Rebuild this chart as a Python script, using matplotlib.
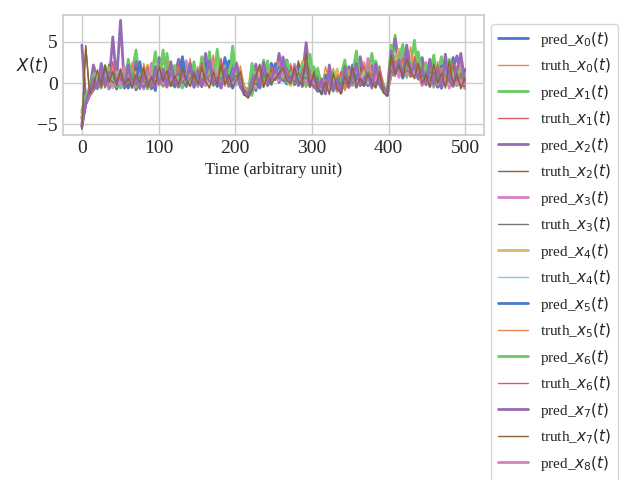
import matplotlib
matplotlib.use("Agg")
import matplotlib.pyplot as plt
import numpy as np
import seaborn as sns

sns.set_theme(style="whitegrid", palette="muted")
plt.rcParams["font.family"] = "serif"
plt.rcParams["font.serif"] = ["Liberation Serif", "DejaVu Serif"]
plt.rcParams["mathtext.fontset"] = "dejavusans"

# time axis (arbitrary unit), one sample every ~5 units
time = np.linspace(0, 499, 100)

# values, 9 variables, prediction and truth each
pred_x0 = [-4.2, -2.1, -1.0, -0.6, 0.8, -0.4, 1.6, -0.7, 0.3, -0.5,
           1.2, -0.6, 0.4, 2.1, -0.8, 0.1, 1.5, -0.5, 0.6, -0.9,
           2.3, 0.2, -0.4, 1.8, 0.5, -0.3, 2.6, 0.1, 1.1, -0.5,
           0.9, 2.2, -0.2, 0.6, 1.7, -0.4, 0.8, 3.1, 0.2, -0.6,
           1.0, -0.3, -1.2, -1.6, 0.4, -0.9, 1.9, 0.3, -0.2, 2.4,
           1.3, 2.0, 0.6, -0.1, 1.4, 0.2, 2.2, -0.4, 0.7, 1.1,
           -0.3, -1.0, 0.5, -1.2, 1.2, -0.6, 0.3, -1.1, 1.6, 0.0,
           0.8, -0.5, 2.0, 0.4, -0.3, 1.3, 0.6, -0.2, -1.0, -1.4,
           2.6, 1.4, 3.2, 0.8, 2.1, 1.5, 0.7, 2.8, -0.2, 0.9,
           -0.4, 1.6, 0.2, -0.6, 1.1, 2.3, -0.3, 0.5, 1.0, -0.6]
truth_x0 = [-4.6, -2.4, -1.3, -0.4, 0.3, 1.2, -0.6, 0.9, -0.3, 2.0,
            -0.5, 0.7, 1.8, -0.4, 0.2, -0.8, 2.4, 0.3, -0.6, 1.0,
            -0.2, 2.8, 0.6, -0.3, 1.2, 0.2, 1.7, -0.4, 2.5, 0.4,
            -0.5, 1.1, 2.7, 0.3, -0.2, 1.9, 0.5, -0.4, 2.3, 0.6,
            -0.3, 1.5, -0.8, -1.4, -0.6, 0.8, -0.2, 1.4, 0.6, 1.0,
            2.5, 0.8, 1.6, 0.2, 2.4, -0.3, 0.9, 0.4, -0.5, 1.7,
            0.5, -0.7, -1.1, 0.9, -0.8, 1.8, -0.4, 0.7, -0.9, 0.3,
            1.5, 0.1, -0.4, 2.6, 0.3, -0.2, 1.8, 0.5, -0.8, -1.2,
            1.6, 3.4, 0.9, 2.2, 1.1, 3.0, 0.5, 1.4, 0.3, -0.3,
            1.9, 0.2, 2.6, -0.5, 0.4, -0.2, 1.5, 0.1, -0.4, 1.2]
pred_x1 = [-3.6, -1.8, -0.9, -0.2, -0.7, 0.6, 2.1, -0.3, 0.4, 1.1,
           -0.6, 0.3, -0.4, 1.5, 4.0, -0.2, 0.7, -0.7, 2.0, 0.1,
           0.6, -0.4, 3.6, 0.3, -0.5, 1.4, 0.2, 2.0, -0.3, 0.8,
           1.6, -0.3, 0.5, 3.8, 0.1, 1.0, -0.5, 2.1, 0.4, 4.5,
           -0.2, 0.5, -1.0, -0.7, -1.5, 1.3, 0.1, 2.8, -0.1, 0.7,
           1.9, 1.0, 2.6, 0.1, -0.2, 1.2, 0.3, 1.6, -0.4, 0.5,
           2.0, -0.2, -1.3, -0.5, 0.6, -1.0, 1.4, 0.2, -0.6, 1.1,
           -0.3, 2.4, 0.6, -0.1, 1.0, 3.6, 0.2, 1.3, -1.1, -0.9,
           0.9, 5.8, 1.6, 4.3, 1.3, 2.2, 5.2, 0.6, 1.5, -0.1,
           0.7, -0.5, 1.3, 3.2, 0.3, -0.4, 2.0, 0.6, -0.2, 1.4]
truth_x1 = [-5.0, -2.2, -1.1, -0.5, 0.5, -0.2, 0.9, 1.8, -0.4, 0.3,
            0.8, -0.5, 1.1, 0.2, -0.7, 1.6, 0.0, 0.9, -0.4, 0.5,
            1.5, -0.3, 0.7, 2.2, -0.1, 0.6, 1.2, -0.5, 0.3, 1.8,
            0.2, 0.8, -0.4, 1.4, 2.0, -0.2, 1.1, 0.4, -0.3, 1.3,
            0.6, -0.5, -1.3, -0.9, 0.2, -0.4, 1.1, 0.4, 1.8, 0.2,
            0.9, 1.5, 0.3, 1.9, 0.6, 0.0, 1.2, -0.3, 0.8, 0.1,
            -0.6, 1.3, -0.8, -0.2, -1.1, 0.5, -0.5, 1.2, -0.7, 0.4,
            0.2, 1.1, -0.3, 0.6, 1.4, -0.4, 0.9, 2.1, -0.6, -1.3,
            1.2, 0.8, 2.5, 1.7, 3.6, 0.9, 1.8, 0.4, 2.3, 0.2,
            -0.2, 0.8, -0.5, 1.3, 0.1, 0.7, -0.3, 1.8, 0.3, -0.5]
pred_x2 = [4.6, -2.0, -0.8, 2.2, 0.4, -0.5, 1.2, -0.2, 5.6, 0.3,
           7.6, -0.4, 0.9, -0.3, 2.6, 0.2, -0.6, 1.3, 0.5, -0.2,
           3.1, 0.4, 1.5, -0.3, 0.8, 2.9, 0.1, -0.4, 1.7, 0.6,
           0.3, 1.2, 3.6, -0.2, 0.7, 1.5, 0.2, 0.9, -0.4, 2.2,
           0.4, 1.0, -0.6, -1.5, 0.3, 2.3, -0.5, 0.8, 0.2, 1.6,
           0.5, 3.6, 1.1, 0.6, 2.0, -0.2, 1.3, 0.8, 4.9, 0.3,
           1.4, -0.4, 0.2, -1.0, 2.2, -0.7, 0.4, -1.2, 0.6, 2.0,
           1.3, -0.1, 3.2, 0.7, -0.3, 2.1, 0.5, 1.1, -0.5, -1.2,
           3.0, 5.4, 1.9, 2.6, 3.6, 0.9, 1.7, 0.5, 3.1, 0.8,
           2.8, 0.6, 1.5, -0.4, 3.5, 0.2, 1.9, 3.3, 0.4, 1.7]
truth_x2 = [-5.5, 4.5, -1.2, -0.3, 0.6, 1.5, -0.1, 2.3, 0.5, 1.2,
            0.2, 1.6, -0.3, 0.8, 1.9, 0.4, 0.9, -0.2, 1.4, 0.3,
            0.6, 1.8, -0.1, 1.1, 2.2, 0.5, 1.0, 0.2, 1.5, 0.4,
            1.3, 0.1, 1.9, 0.6, 1.2, -0.1, 2.5, 0.7, 1.1, 0.3,
            1.6, 0.2, -1.0, -1.6, -0.4, 0.6, 1.3, -0.2, 0.9, 1.4,
            2.0, 1.2, 1.7, 0.8, 1.3, 0.4, 2.7, 0.3, 1.0, 0.6,
            0.2, 0.9, -0.7, 0.5, -0.9, 0.3, 1.6, -0.6, 0.8, 0.1,
            1.0, 0.5, 1.8, -0.2, 0.9, 0.6, 1.4, 0.2, -0.8, -1.5,
            2.2, 1.5, 2.9, 1.2, 2.4, 1.8, 1.1, 2.0, 0.6, 1.3,
            0.5, 1.8, 0.3, 1.2, -0.2, 0.9, 2.1, 0.4, 1.1, 0.2]
pred_x3 = [-4.8, -2.6, -1.4, -0.7, 1.0, -0.3, 0.5, -0.6, 2.2, 0.0,
           0.4, 2.0, -0.5, 0.6, -0.2, 1.2, -0.7, 0.3, 2.4, -0.4,
           0.9, 0.1, -0.5, 1.6, 0.3, -0.2, 0.8, 2.7, 0.0, 1.3,
           -0.4, 0.6, 1.4, -0.1, 2.9, 0.3, -0.3, 1.2, 0.5, 0.0,
           2.5, -0.1, -0.9, -1.3, 0.8, -0.6, 0.4, 1.6, -0.3, 0.6,
           1.1, 0.3, 3.2, 1.0, -0.1, 2.3, 0.5, 1.8, 0.2, -0.3,
           0.8, 1.5, -0.9, 0.3, -0.4, 1.1, -1.0, 0.6, 2.0, -0.5,
           0.6, -0.3, 1.2, 0.2, 3.0, 0.4, -0.4, 1.5, -0.2, -1.1,
           1.8, 2.4, 0.7, 3.5, 0.9, 1.9, 2.7, 1.2, -0.3, 2.5,
           0.1, -0.3, 0.9, 0.2, 2.4, -0.6, 0.6, 1.1, 2.6, -0.2]
truth_x3 = [-3.9, -1.9, -1.0, -0.4, -0.1, 0.7, -0.5, 0.4, 1.1, -0.3,
            0.5, -0.1, 0.8, -0.6, 0.6, 0.1, 1.0, -0.3, 0.4, 1.3,
            -0.2, 0.7, 0.3, -0.4, 1.1, 0.6, -0.1, 0.9, 0.2, 0.5,
            0.8, -0.2, 0.4, 1.0, -0.3, 0.7, 0.2, -0.1, 1.2, 0.3,
            -0.1, 0.6, -0.7, -1.2, -0.2, 0.4, 0.1, 0.9, -0.4, 0.3,
            0.7, 1.1, 0.5, 0.2, 0.9, 0.6, -0.2, 1.0, 0.3, -0.1,
            0.4, -0.8, 0.1, -0.6, 0.3, -1.0, 0.2, -0.5, 0.5, -0.2,
            0.6, 0.2, -0.3, 0.9, 0.1, 0.5, -0.2, 0.7, -0.7, -1.1,
            0.8, 1.6, 1.1, 1.4, 2.0, 0.7, 1.3, 0.9, 0.4, 0.6,
            -0.3, 0.5, 0.2, 0.8, -0.1, 0.4, 0.1, -0.4, 0.6, -0.5]
pred_x4 = [-4.0, -2.3, -0.7, 0.3, 1.4, -0.5, 0.2, 1.0, -0.6, 0.5,
           1.7, -0.3, 0.5, 0.1, 1.3, -0.6, 0.8, 2.2, -0.2, 0.6,
           -0.3, 1.2, 0.4, 2.4, -0.2, 0.9, -0.1, 1.5, 0.6, 2.1,
           0.0, 1.8, 0.3, -0.3, 1.1, 2.3, -0.2, 0.6, 1.9, -0.1,
           0.7, 1.2, -0.5, -1.1, 0.1, -0.3, 2.0, 0.5, 1.2, -0.2,
           1.6, 0.4, 2.1, 1.3, -0.3, 1.0, 0.1, 2.6, 0.7, 0.2,
           1.0, -0.2, 0.4, -0.9, 0.9, -0.4, 1.7, -0.8, 0.2, 0.6,
           1.9, 0.3, -0.2, 1.4, 0.6, -0.1, 2.5, 0.4, -0.6, -1.0,
           1.4, 2.0, 4.1, 1.0, 2.7, 3.3, 0.8, 1.9, 0.1, 1.1,
           0.9, 2.2, -0.2, 0.5, 1.2, -0.1, 0.7, 2.0, -0.3, 0.8]
truth_x4 = [-4.4, -2.0, -0.9, -0.1, 0.2, 0.9, 0.1, -0.4, 0.7, 1.4,
            -0.2, 0.6, 1.2, -0.3, 0.4, 0.9, 0.3, 1.6, -0.1, 0.2,
            1.0, 0.3, -0.3, 0.9, 1.5, -0.1, 0.4, 1.2, 0.8, -0.2,
            1.3, 0.5, 0.9, -0.1, 0.6, 1.6, 0.2, 1.4, 0.1, 0.8,
            -0.2, 0.9, -0.3, -1.0, 0.5, 0.2, -0.4, 1.0, 0.3, 0.7,
            0.4, 1.6, 0.9, 1.2, 0.3, 1.5, 0.6, 0.1, 1.1, 0.5,
            -0.1, 0.3, -0.5, 0.8, -0.7, 0.2, 0.9, -0.3, 0.4, 1.0,
            -0.2, 0.8, 0.4, 1.1, -0.1, 0.9, 0.3, 1.2, -0.4, -0.8,
            2.4, 2.9, 1.5, 3.1, 2.2, 1.6, 2.6, 1.0, 1.7, 0.4,
            1.0, 0.3, 1.4, 0.6, -0.2, 1.3, 0.2, 0.9, 0.5, -0.1]
pred_x5 = [-5.2, -2.5, -1.5, -0.8, -0.2, 0.4, 1.7, -0.4, 0.6, -0.7,
           0.9, 0.2, -0.6, 1.1, 0.3, 2.6, -0.4, 0.4, 0.9, -0.5,
           1.4, -0.2, 2.0, 0.5, -0.4, 1.0, 3.2, 0.3, -0.2, 1.6,
           0.6, -0.4, 2.4, 0.8, 0.2, -0.2, 1.5, 0.3, 2.7, 0.1,
           1.2, -0.1, -1.4, -1.0, 1.1, 0.2, -0.6, 1.2, 0.5, -0.1,
           2.3, 0.1, 0.9, 2.8, 0.4, 1.0, -0.3, 0.6, 1.5, 0.4,
           -0.2, 0.6, -1.3, 1.0, -0.3, -0.8, 0.7, -0.2, 1.3, -0.4,
           2.2, 0.5, 0.1, -0.3, 1.8, 0.2, 0.8, -0.1, -0.9, -1.4,
           3.4, 1.1, 2.3, 0.6, 4.0, 1.2, 2.0, 3.6, 0.2, 1.6,
           0.4, 1.2, -0.5, 2.1, 0.0, 0.6, 3.1, -0.2, 0.8, 1.5]
truth_x5 = [-4.1, -1.7, -0.6, 0.4, -0.3, 2.0, 0.3, -0.5, 1.5, 0.2,
            -0.3, 1.4, 0.1, 2.5, -0.1, 0.5, 1.8, -0.6, 0.2, 2.1,
            0.1, 1.3, 2.7, -0.4, 0.6, 1.9, -0.2, 0.5, 3.0, -0.3,
            2.0, 0.4, -0.1, 1.6, 3.4, 0.1, 0.7, 2.0, -0.3, 1.4,
            0.3, 2.1, -0.4, -0.8, 0.6, 1.4, 0.2, -0.3, 2.2, 0.4,
            1.2, 2.6, 0.2, 1.4, 0.9, 2.1, -0.1, 1.3, 3.1, 0.6,
            0.9, 0.2, -0.6, 2.0, 0.1, -0.5, 1.0, 0.5, -0.8, 1.6,
            0.3, 1.7, 0.9, -0.3, 2.3, 0.7, 1.5, 0.0, -0.6, -1.2,
            2.0, 0.9, 3.8, 2.6, 1.2, 4.4, 1.5, 2.9, 0.8, 0.4,
            2.5, 0.3, -0.3, 1.9, 0.7, 2.8, 0.0, 1.4, -0.4, 0.9]
pred_x6 = [-3.3, -1.6, -0.5, 1.0, 0.1, -0.6, 0.8, 1.9, 0.2, -0.4,
           1.5, -0.2, 2.9, 0.4, -0.5, 0.7, 1.3, -0.3, 0.6, 3.8,
           0.2, 4.0, 0.9, -0.2, 2.1, 0.4, -0.6, 1.1, 0.3, 2.6,
           -0.1, 3.2, 0.6, 1.5, -0.3, 4.1, 0.5, 0.2, 1.3, 3.0,
           0.9, -0.2, -0.8, -1.4, 2.4, 0.1, 0.8, -0.4, 2.7, 0.3,
           0.6, 1.4, 0.5, 2.7, 1.2, 0.3, 0.8, 2.3, 0.4, 3.5,
           0.1, 1.8, -0.4, -1.2, 0.4, 1.3, -0.6, 0.9, 2.8, -0.3,
           1.1, 3.9, -0.2, 0.6, 1.6, -0.3, 2.7, 0.5, -0.4, -0.7,
           4.6, 1.8, 2.9, 4.7, 0.7, 2.5, 1.4, 3.8, 0.5, 2.2,
           0.6, 3.4, 0.1, 1.0, -0.2, 2.9, 0.4, -0.3, 1.6, 0.5]
truth_x6 = [-4.7, -2.7, -1.6, -0.9, 0.3, 1.1, -0.2, 0.6, 2.6, -0.1,
            0.7, -0.3, 1.9, 0.5, 1.1, -0.5, 0.4, 2.0, -0.2, 0.8,
            2.0, 0.5, -0.1, 1.3, 0.4, 2.3, 0.0, 0.8, 1.4, -0.1,
            0.5, 2.5, 0.2, 0.9, 1.6, 0.3, 3.0, -0.2, 0.6, 1.1,
            1.9, 0.4, -1.1, -1.3, 0.0, 0.9, 1.7, 0.2, -0.3, 2.1,
            0.3, 0.7, 2.2, 0.5, 1.8, 0.9, 0.1, 1.5, 2.4, -0.2,
            1.2, -0.5, 0.6, -1.0, 1.5, 0.0, -0.9, 1.4, 0.1, -0.6,
            1.6, 0.0, 1.0, 2.0, 0.2, 1.2, -0.5, 1.6, -0.3, -1.3,
            1.3, 2.7, 1.9, 3.0, 2.5, 0.7, 3.2, 1.5, 2.0, -0.2,
            1.4, 0.6, 2.2, -0.3, 1.0, 0.4, 2.7, 0.0, 1.2, -0.4]
pred_x7 = [-5.3, -2.3, -0.9, 0.6, -0.6, 2.4, -0.2, 1.3, 1.2, 0.1,
           1.4, -0.5, 2.2, -0.3, 0.8, -0.6, 1.5, 0.2, -0.7, 2.0,
           -0.1, 1.6, -0.4, 2.6, 0.1, -0.5, 1.3, 0.4, 2.4, -0.3,
           1.5, -0.4, 0.9, 2.7, -0.2, 0.6, -0.6, 1.7, 0.3, 0.9,
           2.3, -0.5, -1.2, -1.7, 0.4, 1.0, -0.3, 2.5, 0.2, 0.6,
           1.8, 0.6, 3.1, 0.9, 0.2, 1.6, -0.2, 0.5, 2.3, -0.4,
           1.1, -0.9, 0.3, -1.3, 1.6, -0.7, 0.4, -1.1, 2.0, -0.5,
           0.7, 2.4, -0.3, 0.5, 1.3, -0.6, 2.3, 0.2, -0.9, -1.5,
           3.9, 1.2, 2.8, 0.9, 4.6, 1.4, 2.2, 0.6, 1.8, -0.2,
           2.9, 0.1, 1.6, -0.6, 2.7, 0.3, -0.4, 1.5, 3.6, 0.2]
truth_x7 = [-5.6, 4.5, -1.3, -0.4, 1.6, -0.5, 2.2, 0.1, 1.4, -0.3,
            1.7, -0.2, 0.6, -0.6, 1.0, 0.1, 1.9, -0.5, 0.8, -0.3,
            2.0, 0.2, 1.5, -0.4, 0.9, -0.2, 1.8, 0.4, -0.4, 1.3,
            -0.1, 1.9, 0.2, -0.6, 1.3, -0.2, 2.2, -0.1, 1.0, -0.5,
            0.4, 1.4, -1.4, -1.8, -0.9, 0.8, 2.3, -0.5, 1.2, 0.0,
            0.5, 1.2, 1.8, 0.4, -0.1, 2.0, 0.2, -0.2, 3.6, -0.5,
            1.3, -0.7, -1.3, 0.2, -1.4, 1.2, -0.6, -1.3, 0.8, -0.2,
            1.9, -0.4, 0.6, -0.3, 1.1, 0.0, -0.6, 1.3, -1.2, -1.6,
            3.4, 1.1, 2.2, 0.7, 2.9, 1.5, 0.6, 2.4, -0.1, 1.0,
            -0.4, 2.3, 0.0, 1.2, -0.6, 2.7, -0.1, 1.1, -0.7, 0.6]
pred_x8 = [-4.3, -2.2, -1.2, -0.5, 0.2, -0.4, 0.6, 0.1, -0.3, 0.8,
           -0.2, 0.4, 0.9, -0.5, 0.3, 0.7, -0.1, 0.5, 1.0, -0.3,
           0.6, -0.1, 0.8, 0.3, 1.1, -0.2, 0.5, 0.9, -0.1, 0.4,
           0.2, 0.9, -0.2, 0.6, 0.3, 1.0, 0.0, 0.5, 0.8, -0.2,
           0.4, 0.1, -0.9, -1.4, -0.1, 0.3, 0.7, -0.2, 0.5, 0.8,
           0.9, 0.3, 1.2, 0.6, 0.4, 0.8, 0.1, 0.7, 0.3, 0.5,
           0.0, -0.4, -0.7, 0.3, -0.9, 0.4, -0.2, -0.6, 0.5, 0.1,
           0.4, -0.2, 0.7, 0.2, 0.5, -0.1, 0.8, 0.3, -0.6, -1.2,
           1.2, 1.7, 0.9, 1.5, 1.0, 2.1, 0.8, 1.3, 0.2, 0.6,
           -0.1, 0.7, 0.3, -0.4, 0.6, 0.2, 0.9, -0.2, 0.4, -0.6]
truth_x8 = [-4.9, -2.3, -1.1, -0.6, 0.1, 0.5, -0.3, 0.8, 0.0, 0.4,
            1.0, -0.4, 0.3, 0.7, -0.2, 0.9, 0.2, -0.4, 0.6, 0.3,
            0.1, 0.9, 0.5, -0.1, 0.7, 1.2, 0.2, -0.3, 0.6, 0.9,
            -0.2, 0.4, 1.1, 0.2, -0.1, 0.8, 0.5, 1.0, -0.2, 0.6,
            0.9, -0.3, -0.8, -1.3, 0.2, -0.2, 0.5, 1.1, 0.0, 0.4,
            0.5, 0.9, 0.2, 1.0, 0.6, 0.1, 1.3, 0.4, 0.7, 0.0,
            0.6, 0.1, -0.6, -0.2, 0.2, -0.8, 0.5, -0.4, 0.0, 0.7,
            -0.1, 0.6, 0.3, -0.2, 0.9, 0.4, 0.0, 0.6, -0.5, -1.0,
            1.5, 1.0, 2.0, 0.9, 1.6, 1.2, 1.9, 0.5, 1.0, 0.3,
            0.8, -0.2, 0.6, 0.4, -0.3, 0.9, 0.1, 0.5, -0.2, -0.4]

preds = [pred_x0, pred_x1, pred_x2, pred_x3, pred_x4,
         pred_x5, pred_x6, pred_x7, pred_x8]
truths = [truth_x0, truth_x1, truth_x2, truth_x3, truth_x4,
          truth_x5, truth_x6, truth_x7, truth_x8]

fig = plt.figure(figsize=(6.4, 4.8), dpi=100)
ax = fig.add_subplot(111)

for i, (p, t) in enumerate(zip(preds, truths)):
    # purple / brown pair sits on top in the original
    z = 2.2 if i == 7 else 2
    ax.plot(time, p, linewidth=2, zorder=z, label=f"pred_$x_{i}(t)$")
    ax.plot(time, t, linewidth=1, zorder=z, label=f"truth_$x_{i}(t)$")

ax.set_xlabel("Time (arbitrary unit)", fontsize=12)
ax.set_ylabel("$X(t)$", fontsize=12, rotation=0)
ax.tick_params(labelsize=14, length=0, pad=3.5)
ax.legend(loc="upper left", bbox_to_anchor=(1.0, 0.99), fontsize=11,
          labelspacing=0.51)

fig.subplots_adjust(left=0.098, right=0.756, top=0.969, bottom=0.719)
fig.savefig("out.png", dpi=100)
